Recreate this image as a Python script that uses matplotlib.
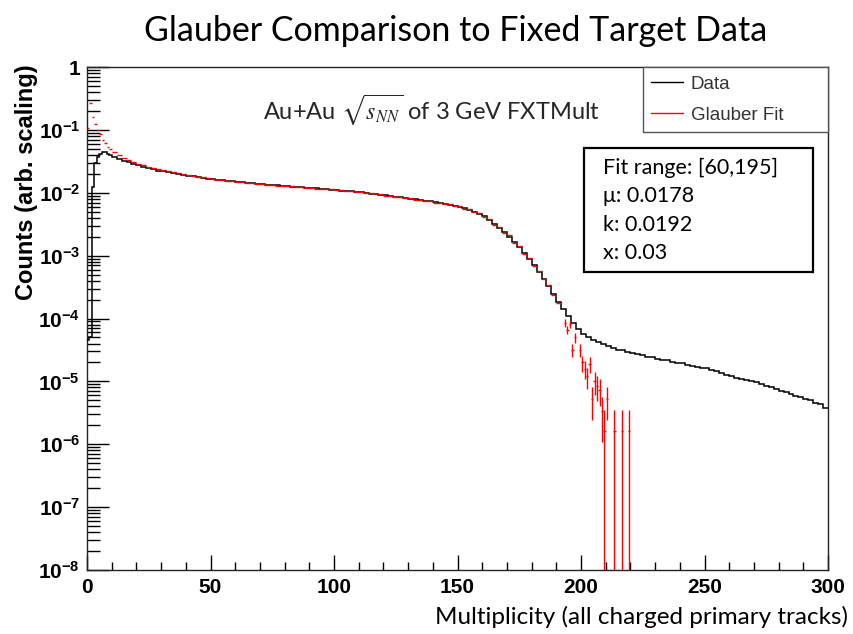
"""Glauber fit vs. fixed-target multiplicity data (log scale)."""
import matplotlib
matplotlib.use("Agg")
import matplotlib.pyplot as plt
import matplotlib.ticker as ticker
from matplotlib.patches import Rectangle
from matplotlib.lines import Line2D
import numpy as np

# ---- data histogram: unit bins 0..10, then 2-wide bins 10..300
data_edges = np.r_[np.arange(0, 10), np.arange(10, 301, 2)]
data_vals = [
    4.5e-5, 5.0e-5, 0.0125, 0.030, 0.037, 0.042, 0.045, 0.044, 0.042, 0.040,
    0.0375, 0.0350, 0.0325, 0.0305, 0.0288, 0.0272, 0.0258, 0.0246, 0.0236, 0.0226,
    0.0218, 0.0211, 0.0204, 0.0198, 0.0192, 0.0187, 0.0182, 0.0177, 0.0173, 0.0168,
    0.0165, 0.0161, 0.0158, 0.0155, 0.0152, 0.0149, 0.0147, 0.0144, 0.0142, 0.0139,
    0.0137, 0.0135, 0.0133, 0.0131, 0.0129, 0.0127, 0.0125, 0.0124, 0.0122, 0.0120,
    0.0119, 0.0117, 0.0115, 0.0114, 0.0112, 0.0110, 0.0108, 0.0107, 0.0105, 0.0103,
    0.0101, 0.0099, 0.0097, 0.0095, 0.0093, 0.0091, 0.0089, 0.0087, 0.0085, 0.0083,
    0.0081, 0.0079, 0.0077, 0.0075, 0.0073, 0.0071, 0.0069, 0.0067, 0.0065, 0.0062,
    0.0060, 0.0057, 0.0054, 0.0050, 0.0046, 0.0042, 0.0037, 0.0032, 0.0028, 0.0024,
    0.0020, 0.00165, 0.00135, 0.00110, 0.00088, 0.00070, 0.00055, 0.00043, 0.00033, 0.00025,
    1.85e-4, 1.40e-4, 1.08e-4, 8.5e-5, 6.8e-5, 5.7e-5, 5.0e-5, 4.6e-5, 4.2e-5, 3.9e-5,
    3.6e-5, 3.45e-5, 3.2e-5, 3.15e-5, 2.9e-5, 2.85e-5, 2.7e-5, 2.6e-5, 2.45e-5, 2.4e-5,
    2.3e-5, 2.2e-5, 2.15e-5, 2.05e-5, 1.95e-5, 1.95e-5, 1.8e-5, 1.78e-5, 1.7e-5, 1.65e-5,
    1.62e-5, 1.52e-5, 1.47e-5, 1.38e-5, 1.28e-5, 1.22e-5, 1.15e-5, 1.1e-5, 1.04e-5, 1.0e-5,
    9.7e-6, 9.0e-6, 8.6e-6, 8.0e-6, 7.6e-6, 7.0e-6, 6.7e-6, 6.2e-6, 5.8e-6, 5.6e-6,
    5.2e-6, 5.0e-6, 4.6e-6, 4.3e-6, 3.8e-6,
]

# ---- Glauber fit points (bin centres), body part
fit_x = np.r_[np.arange(0.5, 10, 1.0), np.arange(11, 192, 2)]
fit_halfwidth = np.where(fit_x < 10, 0.5, 1.0)
fit_vals = [
    0.107, 0.27, 0.16, 0.125, 0.100, 0.085, 0.070, 0.061, 0.054, 0.049,
    0.045, 0.040, 0.036, 0.033, 0.031, 0.029, 0.0275, 0.026, 0.0248, 0.0237,
    0.0228, 0.0219, 0.0211, 0.0204, 0.0197, 0.0191, 0.0185, 0.0180, 0.0175, 0.0170,
    0.0166, 0.0162, 0.0160, 0.0153, 0.0154, 0.0147, 0.0148, 0.0142, 0.0143, 0.0137,
    0.0139, 0.0134, 0.0134, 0.0129, 0.0130, 0.0126, 0.0126, 0.0122, 0.0123, 0.0119,
    0.0120, 0.0116, 0.0116, 0.0113, 0.0113, 0.0109, 0.0109, 0.0106, 0.0106, 0.0102,
    0.0104, 0.0098, 0.0098, 0.0094, 0.0094, 0.0090, 0.0090, 0.0086, 0.0086, 0.0082,
    0.0082, 0.0078, 0.0078, 0.0074, 0.0074, 0.0070, 0.0070, 0.0066, 0.0066, 0.0061,
    0.0061, 0.0056, 0.0055, 0.0049, 0.0047, 0.0041, 0.0038, 0.0031, 0.0029, 0.0023,
    0.0021, 0.00160, 0.00140, 0.00106, 0.00091, 0.00068, 0.00057, 0.00042, 0.00034, 0.00024,
    1.75e-4,
]

# ---- Glauber fit tail, where statistical errors become visible
tail_x = [193.5, 194.5, 195.5, 196.5, 197.5, 199.5, 200.5, 201.5, 202.5, 203.5,
          204.5, 205.5, 206.5, 207.5, 208.5, 209.5, 210.5, 213.5, 216.5, 219.5]
tail_vals = [8.5e-5, 6.6e-5, 8.2e-5, 3.2e-5, 5.0e-5, 3.2e-5, 2.0e-5, 1.6e-5, 1.2e-5, 1.9e-5,
             5.3e-6, 1.0e-5, 8.6e-6, 7.4e-6, 3.4e-6, 1.6e-6, 5.3e-6, 1.6e-6, 1.6e-6, 1.6e-6]
tail_err = [1.2e-5, 1.0e-5, 1.1e-5, 7.2e-6, 9.0e-6, 7.2e-6, 5.7e-6, 5.0e-6, 4.4e-6, 5.5e-6,
            2.9e-6, 4.0e-6, 3.7e-6, 3.4e-6, 2.3e-6, 1.9e-6, 2.9e-6, 1.9e-6, 1.9e-6, 1.9e-6]

y_decades = [0, -1, -2, -3, -4, -5, -6, -7, -8]
fit_info = ["Fit range: [60,195]", "\u03bc: 0.0178", "k: 0.0192", "x: 0.03"]

RED = "#ff0000"
SANS = ["Liberation Sans", "DejaVu Sans"]
CAL = ["Lato", "DejaVu Sans"]

plt.rcParams.update({
    "font.family": SANS,
    "mathtext.fontset": "stix",
    "axes.unicode_minus": True,
})

fig = plt.figure(figsize=(8.54, 6.34), dpi=100)
ax = fig.add_axes([0.1019, 0.1009, 0.8677, 0.7934])

ax.stairs(data_vals, data_edges, baseline=None, color="black", linewidth=1.1, zorder=3)

ax.errorbar(fit_x, fit_vals, xerr=fit_halfwidth,
            fmt="none", ecolor=RED, elinewidth=1.0, zorder=4)

tv = np.array(tail_vals)
te = np.array(tail_err)
lower = np.where(te >= tv, tv - 1e-9, te)
ax.errorbar(tail_x, tv, xerr=0.5, yerr=[lower, te], fmt="none",
            ecolor=RED, elinewidth=1.0, zorder=4)

ax.set_yscale("log")
ax.set_xlim(0, 300)
ax.set_ylim(1e-8, 1)

ax.xaxis.set_major_locator(ticker.MultipleLocator(50))
ax.xaxis.set_minor_locator(ticker.MultipleLocator(10))
ax.yaxis.set_major_locator(ticker.FixedLocator([10.0 ** d for d in y_decades]))
ax.yaxis.set_minor_locator(ticker.LogLocator(base=10, subs=np.arange(2, 10), numticks=200))
ax.yaxis.set_minor_formatter(ticker.NullFormatter())


def ylab(v, pos):
    e = int(round(np.log10(v)))
    if e == 0:
        return "1"
    return r"$\mathregular{10^{%d}}$" % e


ax.yaxis.set_major_formatter(ticker.FuncFormatter(ylab))

ax.tick_params(axis="x", which="major", direction="in", length=10.8, width=1.0,
               top=False, labelsize=15, pad=6)
ax.tick_params(axis="x", which="minor", direction="in", length=5.8, width=1.0, top=False)
ax.tick_params(axis="y", which="major", direction="in", length=15.8, width=1.0,
               right=False, labelsize=15, pad=5)
ax.tick_params(axis="y", which="minor", direction="in", length=9.4, width=1.0, right=False)
for lab in ax.get_xticklabels() + ax.get_yticklabels():
    lab.set_fontweight("bold")
for s in ax.spines.values():
    s.set_linewidth(1.0)
    s.set_color("#222222")

# legend box in ROOT style
leg_handles = [Line2D([], [], color="black", lw=1.0), Line2D([], [], color=RED, lw=1.0)]
leg = ax.legend(leg_handles, ["Data", "Glauber Fit"], loc="upper left",
                bbox_to_anchor=(0.750, 0.877, 0.250, 0.123), mode="expand",
                fancybox=False, edgecolor="#555555", framealpha=1, fontsize=13.5,
                handlelength=1.7, handletextpad=0.4, borderpad=0.45, labelspacing=0.75,
                borderaxespad=0)
leg.get_frame().set_linewidth(1.0)
for t in leg.get_texts():
    t.set_color("#333333")

# fit parameter box
ax.add_patch(Rectangle((0.6707, 0.5924), 0.3091, 0.2466, transform=ax.transAxes,
                       fill=False, edgecolor="black", linewidth=1.6, zorder=6))
for i, line in enumerate(fit_info):
    ax.text(0.6964, 0.799 - i * 0.0563, line, transform=ax.transAxes,
            family=CAL, fontsize=15.5, va="center", ha="left", zorder=7)

ax.text(0.465, 0.9145, r"Au+Au $\sqrt{s_{NN}}$ of 3 GeV FXTMult", transform=ax.transAxes,
        family=CAL, fontsize=17, color="#262626", ha="center", va="center")

fig.text(456 / 854, 1 - 31 / 634, "Glauber Comparison to Fixed Target Data",
         family=CAL, fontsize=24.5, ha="center", va="center")
fig.text(848 / 854, 1 - 617 / 634, "Multiplicity (all charged primary tracks)",
         family=CAL, fontsize=17.5, ha="right", va="center")
fig.text(27 / 854, 1 - 64 / 634, "Counts (arb. scaling)", rotation=90,
         fontsize=17, fontweight="bold", ha="center", va="top")

fig.savefig("out.png", dpi=100, facecolor="white")
